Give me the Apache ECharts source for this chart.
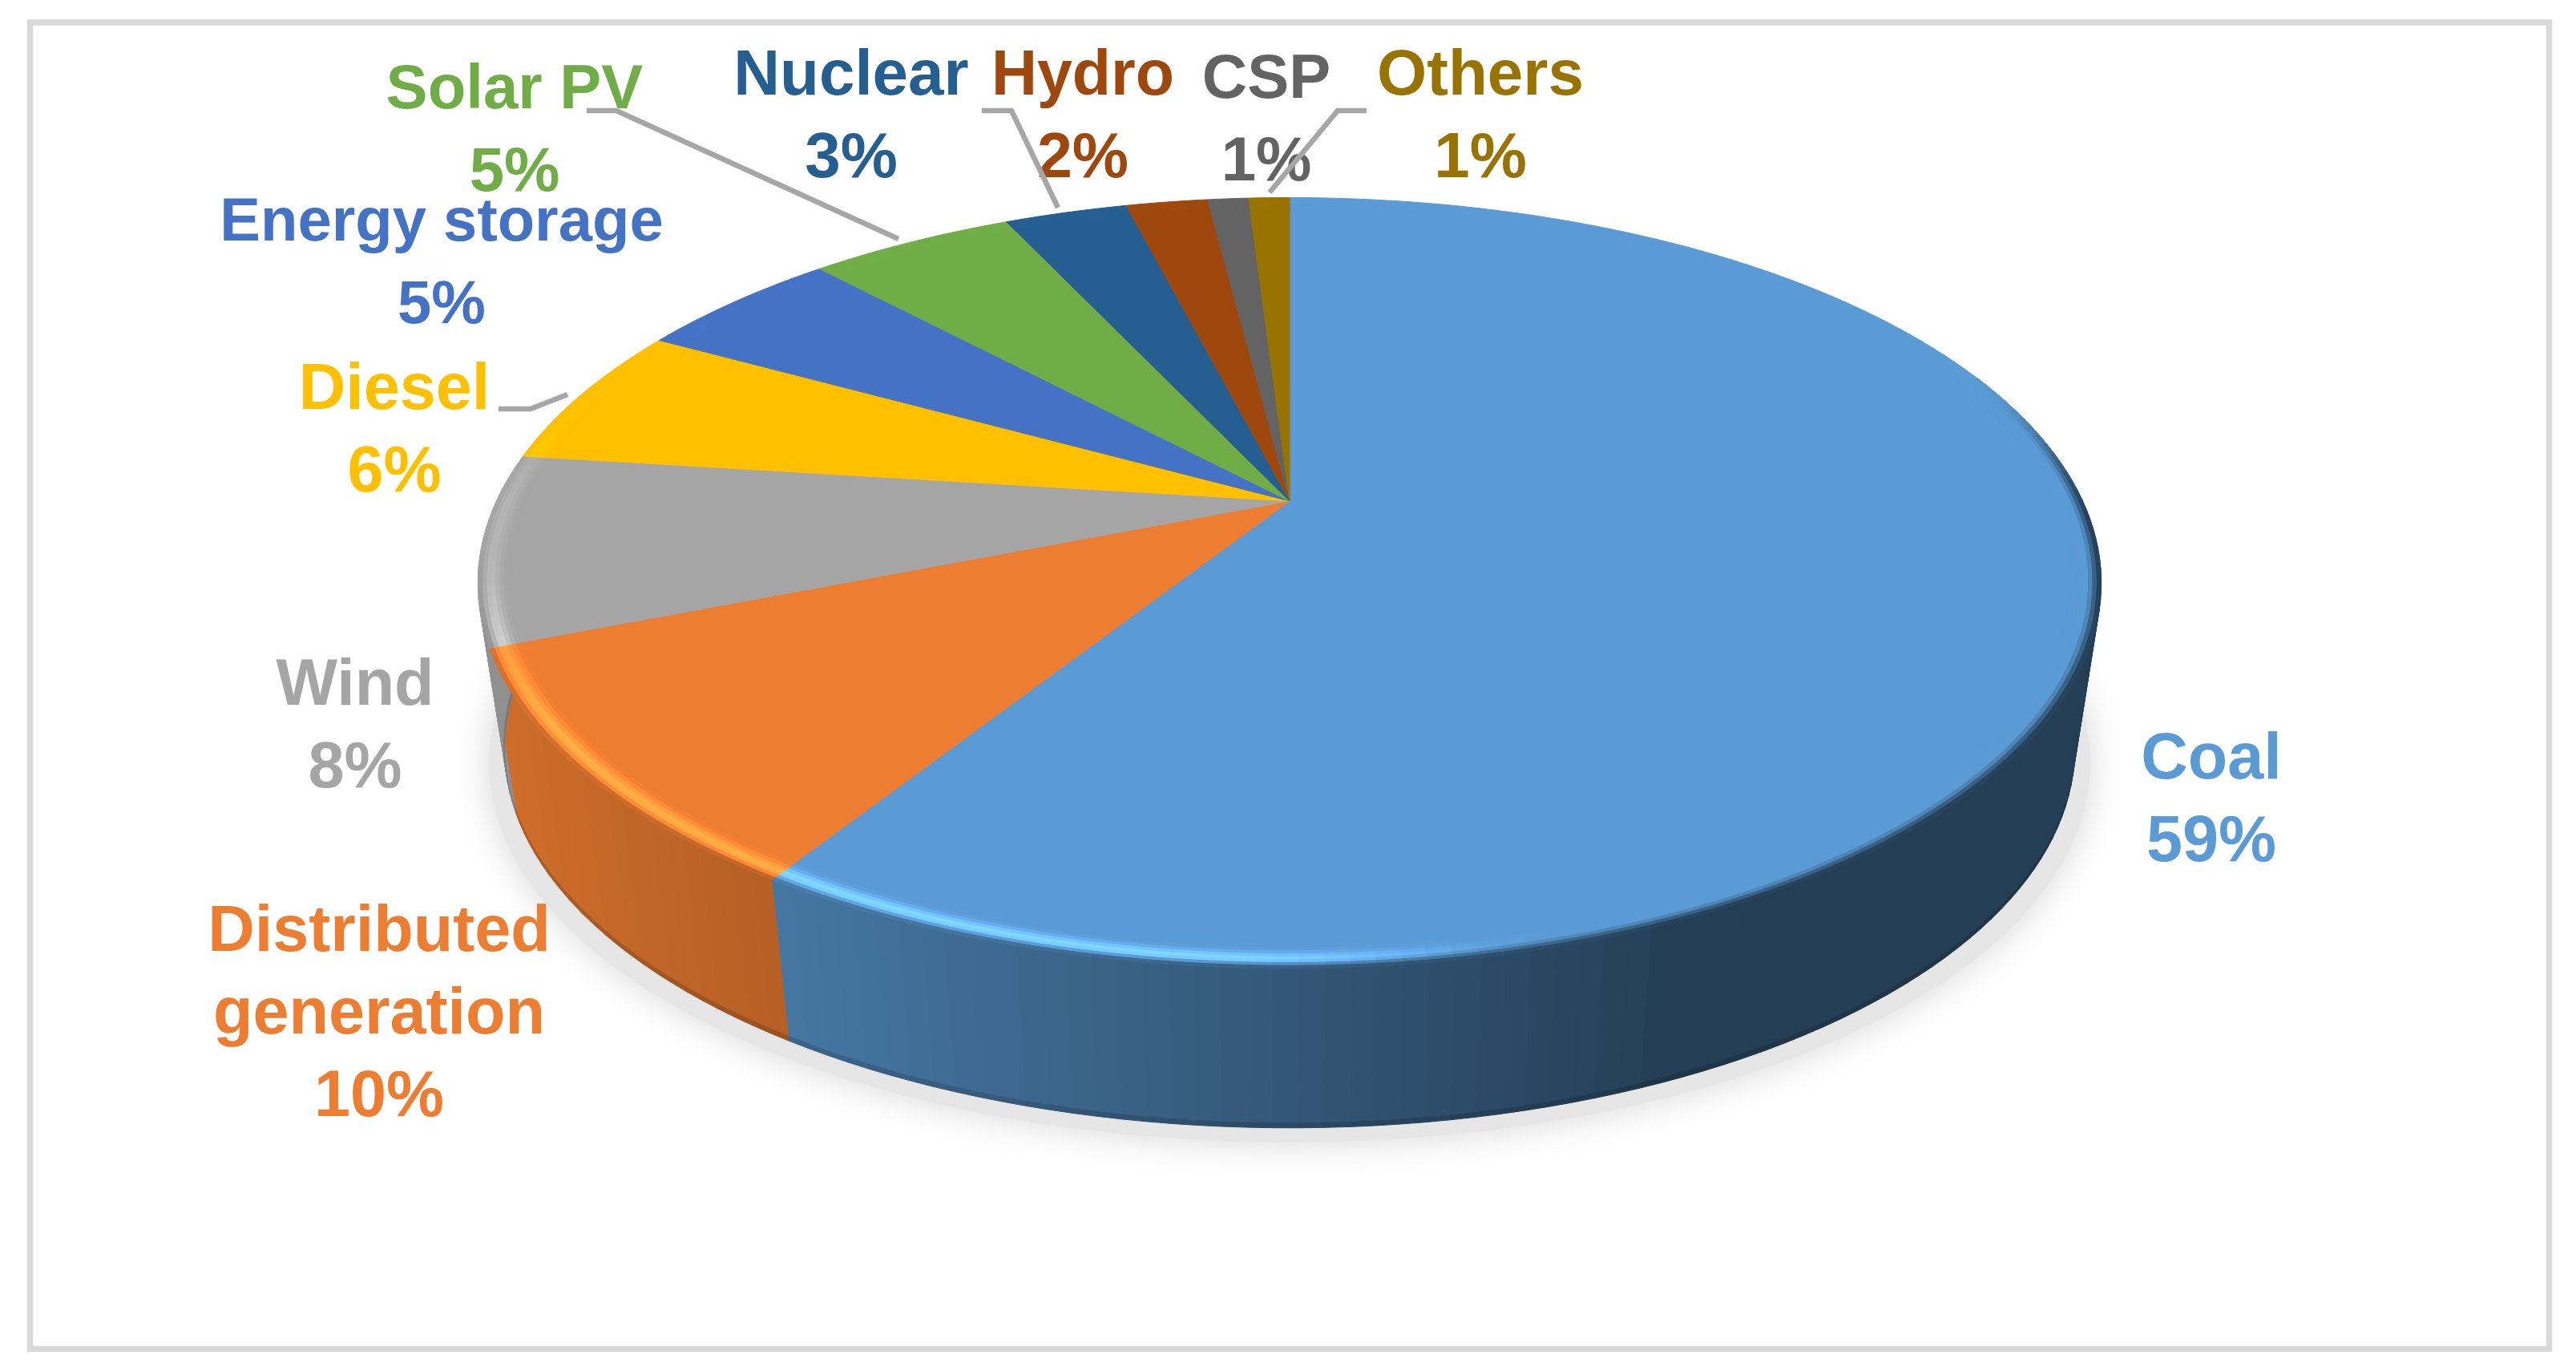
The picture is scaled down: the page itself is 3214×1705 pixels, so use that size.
<!DOCTYPE html>
<html>
<head>
<meta charset="utf-8">
<style>
  html, body { margin: 0; padding: 0; background: #fff; }
  #chart { width: 3214px; height: 1705px; }
</style>
<script src="https://cdn.jsdelivr.net/npm/echarts@6/dist/echarts.min.js"></script>
</head>
<body>
<div id="chart"></div>
<script>
const categories = ['Coal', 'Distributed generation', 'Wind', 'Diesel', 'Energy storage', 'Solar PV', 'Nuclear', 'Hydro', 'CSP', 'Others']
const shares = [59, 10, 8, 6, 5, 5, 3, 2, 1, 1]
const palette = ['#5b9bd5', '#ed7d31', '#a5a5a5', '#ffc000', '#4472c4', '#70ad47', '#255e91', '#9e480e', '#636363', '#997300']

// label centres, same order as categories (first line of the name, in px)
const labelLines = [['Coal'], ['Distributed', 'generation'], ['Wind'], ['Diesel'], ['Energy storage'], ['Solar PV'], ['Nuclear'], ['Hydro'], ['CSP'], ['Others']]
const labelAnchors = [[2759, 949], [473, 1164], [443, 857], [492, 488], [551, 279], [642, 113], [1062, 96], [1351, 96], [1580, 100], [1847, 96]]
const labelSizes = [81, 81, 81, 81, 76, 78, 80, 79, 78, 80]
const leaderLines = [
  [[732, 138], [769, 138], [1121, 298]],
  [[1225, 138], [1262, 138], [1320, 259]],
  [[1705, 138], [1669, 138], [1584, 240]],
  [[622, 510], [662, 510], [708, 492]]
]

// pie geometry: a disc seen in perspective
const CX = 1609
const TOP = { a: 989.5, b: 459, y: 625 }
const BOTTOM = { a: 957, b: 451, y: 834 }
const TILT = 0.2126
const STEP = 1.5
const LINE_HEIGHT = 103

function project(deg, r, disc) {
  const rad = deg * Math.PI / 180
  const u = r * Math.sin(rad)
  const v = -r * Math.cos(rad)
  const w = 1 - TILT * v
  return [CX + disc.a * u / w, disc.y + disc.b * v / w]
}

function shade(hex, f) {
  const n = parseInt(hex.slice(1), 16)
  const c = [n >> 16, (n >> 8) & 255, n & 255].map(x => Math.min(255, Math.round(x * f)))
  return `rgb(${c[0]},${c[1]},${c[2]})`
}

function mix(a, b, t) {
  return a + (b - a) * t
}

function ramp(x, from, to) {
  const t = Math.max(0, Math.min(1, (x - from) / (to - from)))
  return t * t * (3 - 2 * t)
}

// side wall gets darker going from left to right
function wallFactor(x) {
  const t = (x - CX) / TOP.a
  if (t < -0.64) return mix(0.76, 0.87, Math.min(1, (-0.64 - t) / 0.36))
  if (t < 0.445) return mix(0.76, 0.42, (t + 0.64) / 1.085)
  return 0.4
}

function steps(start, end) {
  const n = Math.max(1, Math.ceil((end - start) / STEP))
  return Array.from({ length: n }, (_, i) => [
    start + (end - start) * i / n,
    start + (end - start) * (i + 1) / n
  ])
}

function strip(points, fill) {
  return {
    type: 'polygon',
    shape: { points },
    style: { fill, stroke: fill, lineWidth: 1 }
  }
}

function renderWall(params, api) {
  const start = api.value(0)
  const end = api.value(1)
  const color = palette[params.dataIndex]
  const children = []
  steps(start, end).forEach(([d0, d1]) => {
    if (-Math.cos((d0 + d1) / 2 * Math.PI / 180) < -0.35) return
    const t0 = project(d0, 1, TOP)
    const t1 = project(d1, 1, TOP)
    const b0 = project(d0, 1, BOTTOM)
    const b1 = project(d1, 1, BOTTOM)
    const f = wallFactor((t0[0] + t1[0]) / 2)
    const lerp = (p, q, t) => [mix(p[0], q[0], t), mix(p[1], q[1], t)]
    const cut = 0.97
    children.push(strip([t0, t1, lerp(t1, b1, cut), lerp(t0, b0, cut)], shade(color, f)))
    children.push(strip([lerp(t0, b0, cut), lerp(t1, b1, cut), b1, b0], shade(color, f * 0.85)))
  })
  return { type: 'group', children }
}

function renderFace(params, api) {
  const start = api.value(0)
  const end = api.value(1)
  const color = palette[params.dataIndex]
  const inner = 0.96
  const rings = 8
  const arc = [project(start, 0, TOP)]
  const n = Math.ceil((end - start) / STEP)
  for (let i = 0; i <= n; i++) arc.push(project(start + (end - start) * i / n, inner + 0.002, TOP))
  const children = [strip(arc, color)]
  for (let k = 0; k < rings; k++) {
    const s = (k + 0.5) / rings
    const r0 = mix(inner, 1, k / rings)
    const r1 = mix(inner, 1, (k + 1) / rings)
    steps(start, end).forEach(([d0, d1]) => {
      const mid = (d0 + d1) / 2 * Math.PI / 180
      const pts = [project(d0, r0, TOP), project(d1, r0, TOP), project(d1, r1, TOP), project(d0, r1, TOP)]
      const x = (pts[0][0] + pts[1][0]) / 2
      const v = -Math.cos(mid)
      const t = (x - CX) / TOP.a
      const front = ramp(v, -0.35, 0.05)
      const lit = 1 - ramp(t, -0.1, 0.35)
      const darkWeight = mix(1, ramp(v, 0, 0.5), lit)
      const dark = mix(1, wallFactor(x), ramp(s, 0.55, 1) * darkWeight)
      const glow = mix(0.1, 0.42, ramp(v, 0.1, 0.6)) * lit * Math.pow(Math.sin(Math.PI * Math.pow(s, 1.5)), 2)
      children.push(strip(pts, shade(color, mix(1, dark + glow, front))))
    })
  }
  return { type: 'group', children }
}

function renderShadow() {
  const pts = []
  for (let d = 0; d < 360; d += 3) pts.push(project(d, 1, { a: BOTTOM.a * 1.02, b: BOTTOM.b, y: BOTTOM.y + 18 }))
  return {
    type: 'polygon',
    shape: { points: pts },
    style: { fill: '#e6e6e6', shadowBlur: 44, shadowColor: 'rgba(0,0,0,0.16)' }
  }
}

let acc = 0
const angles = shares.map(v => {
  const from = acc
  acc += v
  return [from * 3.6, acc * 3.6]
})

const labelGraphics = []
categories.forEach((name, i) => {
  const lines = labelLines[i].concat(`${shares[i]}%`)
  lines.forEach((text, j) => {
    labelGraphics.push({
      type: 'text',
      x: labelAnchors[i][0],
      y: labelAnchors[i][1] + j * LINE_HEIGHT,
      z: 10,
      style: {
        text,
        fill: palette[i],
        font: `bold ${labelSizes[i]}px "Liberation Sans", Arial, sans-serif`,
        textAlign: 'center',
        textVerticalAlign: 'middle'
      }
    })
  })
})

const leaderGraphics = leaderLines.map(points => ({
  type: 'polyline',
  z: 11,
  shape: { points },
  style: { stroke: '#a6a6a6', lineWidth: 6.5, fill: null }
}))

const frame = {
  type: 'rect',
  z: 0,
  shape: { x: 37.5, y: 28, width: 3143, height: 1654.5 },
  style: { fill: '#fff', stroke: '#d9d9d9', lineWidth: 7.5 }
}

const chart = echarts.init(document.getElementById('chart'), null, { renderer: 'canvas' })
chart.setOption({
  animation: false,
  backgroundColor: '#fff',
  graphic: [frame].concat(labelGraphics, leaderGraphics),
  series: [
    { type: 'custom', coordinateSystem: 'none', silent: true, z: 1, data: [[0, 360]], renderItem: renderShadow },
    { type: 'custom', coordinateSystem: 'none', silent: true, z: 2, data: angles, renderItem: renderWall },
    { type: 'custom', coordinateSystem: 'none', silent: true, z: 3, data: angles, renderItem: renderFace }
  ]
})
</script>
</body>
</html>
